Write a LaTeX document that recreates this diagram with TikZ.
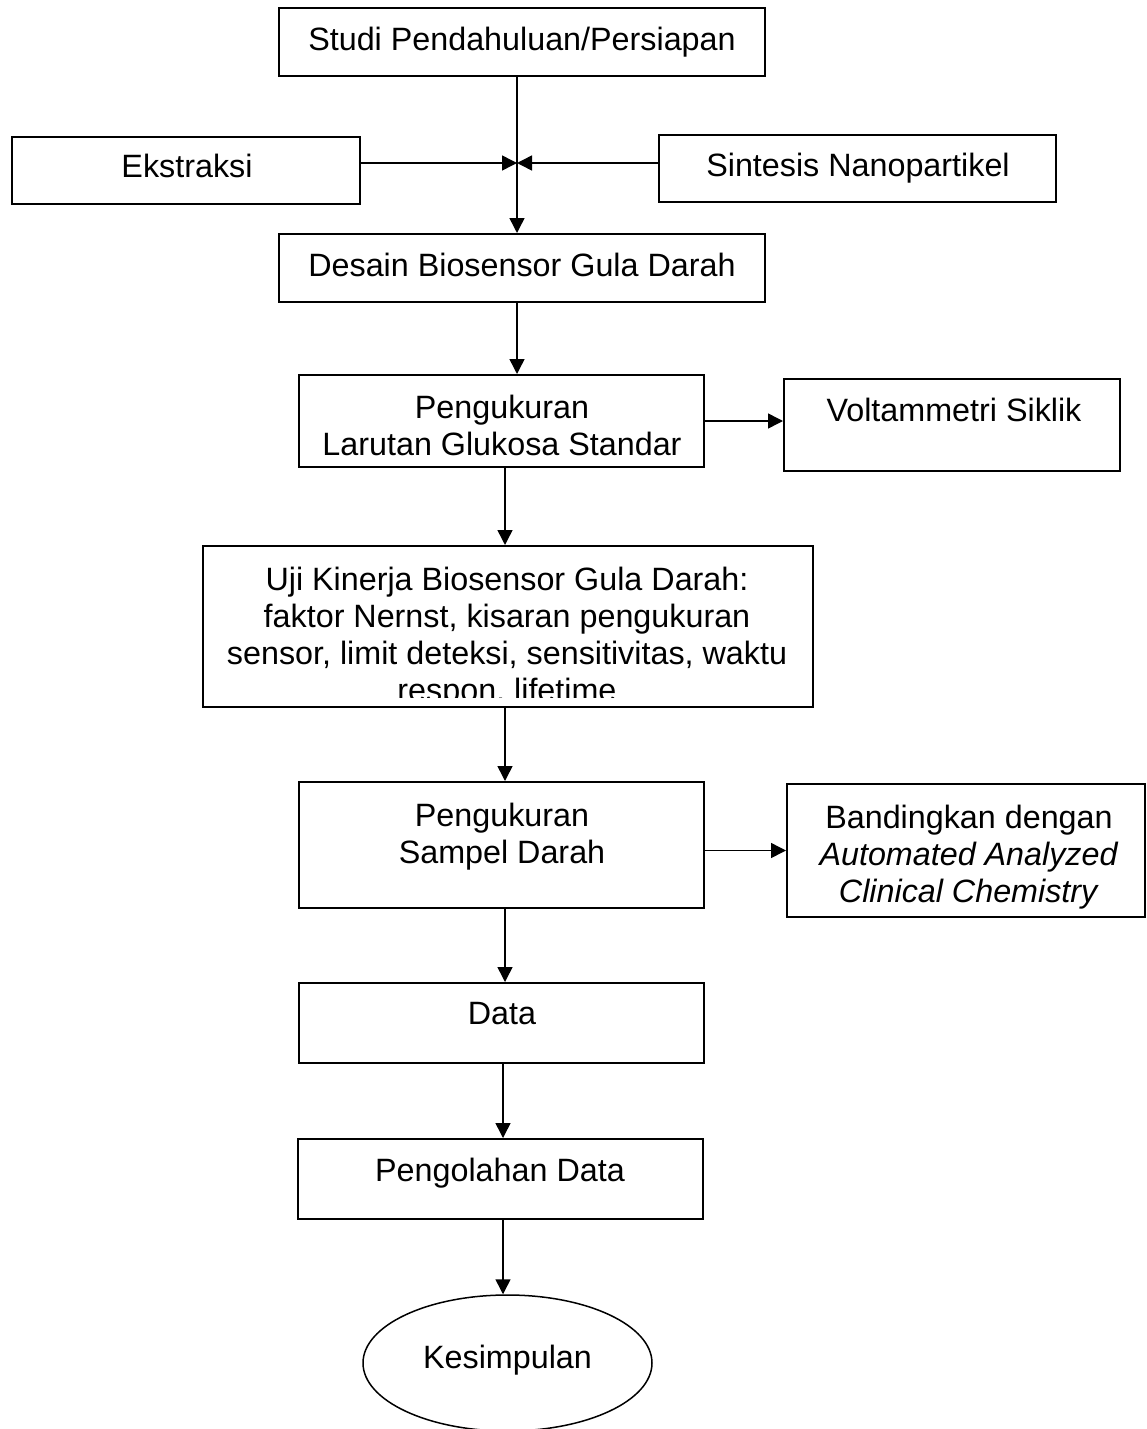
\documentclass[tikz,border=0pt]{standalone}
\usepackage{fontspec}
\setmainfont{Liberation Sans}
\usetikzlibrary{arrows.meta,shapes.geometric}
\tikzset{
  box/.style={draw=black, line width=2pt, rectangle, inner sep=0pt},
  oval/.style={draw=black, line width=1.5pt, ellipse, inner sep=0pt},
  txt/.style={anchor=north, inner sep=0pt, align=center, font=\fontsize{32.3}{36.8}\selectfont},
  arr/.style={line width=1.5pt, -{Triangle[length=15pt,width=15pt]}}
}
\begin{document}
\begin{tikzpicture}[x=1pt,y=-1pt]
\useasboundingbox (0,0) rectangle (1146,1429);
% boxes
\node[box, minimum width=486pt, minimum height=68pt] (b1) at (522,42) {};
\node[box, minimum width=348pt, minimum height=67pt] (ek) at (186,170.5) {};
\node[box, minimum width=397pt, minimum height=67pt] (si) at (857.5,168.5) {};
\node[box, minimum width=486pt, minimum height=68pt] (de) at (522,268) {};
\node[box, minimum width=405pt, minimum height=92pt] (pl) at (501.5,421) {};
\node[box, minimum width=336pt, minimum height=92pt] (vo) at (952,425) {};
\node[box, minimum width=610pt, minimum height=161pt] (uj) at (508,626.5) {};
\node[box, minimum width=405pt, minimum height=126pt] (ps) at (501.5,845) {};
\node[box, minimum width=358pt, minimum height=133pt] (bd) at (966,850.5) {};
\node[box, minimum width=405pt, minimum height=80pt] (da) at (501.5,1023) {};
\node[box, minimum width=405pt, minimum height=80pt] (po) at (500.5,1179) {};
\node[oval, minimum width=289pt, minimum height=136pt] (ke) at (507.5,1363) {};
% texts
\node[txt] (t1) at (522,27) {Studi Pendahuluan/Persiapan};
\node[txt] (tek) at (187,154) {Ekstraksi};
\node[txt] (tsi) at (858,153) {Sintesis Nanopartikel};
\node[txt] (tde) at (522,253) {Desain Biosensor Gula Darah};
\node[txt] (tpl) at (502,395) {Pengukuran\\Larutan Glukosa Standar};
\node[txt] (tvo) at (954,398) {Voltammetri Siklik};
\begin{scope}
\clip (uj.north west) rectangle (uj.east |- 0,697);
\node[txt] (tuj) at (507,567) {Uji Kinerja Biosensor Gula Darah:\\faktor Nernst, kisaran pengukuran\\sensor, limit deteksi, sensitivitas, waktu\\respon, lifetime};
\end{scope}
\node[txt] (tps) at (502,803) {Pengukuran\\Sampel Darah};
\node[txt] (tbd) at (969,805) {Bandingkan dengan\\\textit{Automated Analyzed}\\\textit{Clinical Chemistry}};
\node[txt] (tda) at (502,1002) {Data};
\node[txt] (tpo) at (500,1158) {Pengolahan Data};
\node[txt] (tke) at (507.5,1345) {Kesimpulan};
% helper coordinates
\coordinate (j) at (517,163);
\coordinate (vx) at (505,600);
\coordinate (vy) at (503,1100);
% connectors
\draw[arr] (j |- b1.south) -- (j |- de.north);
\draw[arr] (ek.east |- j) -- (j);
\draw[arr] (si.west |- j) -- (j);
\draw[arr] (j |- de.south) -- (j |- pl.north);
\draw[arr] (pl.east) -- (pl.east -| vo.west);
\draw[arr] (vx |- pl.south) -- (vx |- uj.north);
\draw[arr] (vx |- uj.south) -- (vx |- ps.north);
\draw[arr] (ps.east |- bd.west) -- (bd.west);
\draw[arr] (vx |- ps.south) -- (vx |- da.north);
\draw[arr] (vy |- da.south) -- (vy |- po.north);
\draw[arr] (vy |- po.south) -- (vy |- ke.north);
\end{tikzpicture}
\end{document}
